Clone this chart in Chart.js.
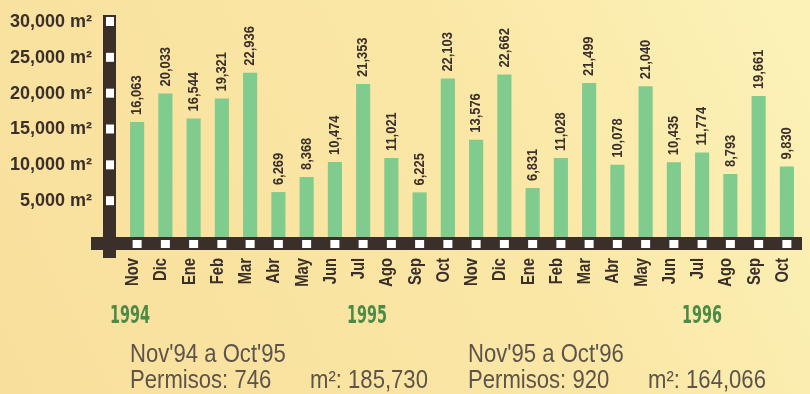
<!DOCTYPE html>
<html>
<head>
<meta charset="utf-8">
<script src="https://cdn.jsdelivr.net/npm/chart.js@4"></script>
<style>
  html, body { margin: 0; padding: 0; background: #fae4a0; }
  #wrap { width: 810px; height: 394px; }
</style>
</head>
<body>
<div id="wrap"><canvas id="myChart" width="810" height="394"></canvas></div>
<script>
// building permits, square metres per month
const months = ["Nov", "Dic", "Ene", "Feb", "Mar", "Abr", "May", "Jun", "Jul", "Ago", "Sep", "Oct",
  "Nov", "Dic", "Ene", "Feb", "Mar", "Abr", "May", "Jun", "Jul", "Ago", "Sep", "Oct"];
const squareMeters = [16063, 20033, 16544, 19321, 22936, 6269, 8368, 10474, 21353, 11021, 6225, 22103,
  13576, 22662, 6831, 11028, 21499, 10078, 21040, 10435, 11774, 8793, 19661, 9830];
const yTicks = [5000, 10000, 15000, 20000, 25000, 30000];
const years = ["1994", "1995", "1996"];
const summaryTitles = ["Nov'94 a Oct'95", "Nov'95 a Oct'96"];
const permits = [746, 920];
const totals = [185730, 164066];

const ink = "#3a2f29";
const sans = "'Liberation Sans', Arial, sans-serif";
const fmt = (n) => n.toLocaleString("en-US");

// squeezed text, stands in for a condensed face
function narrowText(c, text, x, y, sx, angle) {
  c.save();
  c.translate(x, y);
  if (angle) c.rotate(angle);
  c.scale(sx, 1);
  c.fillText(text, 0, 0);
  c.restore();
}

// cream paper background
const paper = {
  id: "paper",
  beforeDraw(chart) {
    const c = chart.ctx;
    const g = c.createLinearGradient(0, 394, 810, 0);
    g.addColorStop(0, "#f9df9c");
    g.addColorStop(0.6, "#fae7a6");
    g.addColorStop(1, "#fcf2b8");
    c.save();
    c.fillStyle = g;
    c.fillRect(0, 0, chart.width, chart.height);
    c.restore();
  },
};

// film-strip axes, month names, value labels, years and the summary block
const decorations = {
  id: "decorations",
  afterDatasetsDraw(chart) {
    const c = chart.ctx;
    const x = chart.scales.x;
    const y = chart.scales.y;
    const base = chart.chartArea.bottom;
    c.save();

    // strips
    c.fillStyle = ink;
    c.fillRect(103, 15, 13, 243);
    c.fillRect(91, base, 711, 13);
    c.fillStyle = "#ffffff";
    yTicks.forEach((t) => {
      const py = y.getPixelForValue(t);
      c.fillRect(106, py - 5, 8, 9);
    });
    squareMeters.forEach((v, i) => {
      const px = x.getPixelForValue(i);
      c.fillRect(px - 4.5, base + 3, 9, 8);
    });

    // month names, reading upwards
    c.fillStyle = ink;
    c.font = "bold 18px " + sans;
    c.textAlign = "right";
    c.textBaseline = "middle";
    months.forEach((m, i) => {
      narrowText(c, m, x.getPixelForValue(i) - 4, base + 21, 0.82, -Math.PI / 2);
    });

    // values above the bars
    const meta = chart.getDatasetMeta(0);
    c.font = "bold 15px " + sans;
    c.textAlign = "left";
    meta.data.forEach((bar, i) => {
      narrowText(c, fmt(squareMeters[i]), bar.x, bar.y - 7, 0.86, -Math.PI / 2);
    });

    // years
    c.fillStyle = "#4b8a47";
    c.font = "bold 24px 'DejaVu Sans', sans-serif";
    c.textBaseline = "alphabetic";
    const yearX = [110, 347, 682];
    years.forEach((yr, i) => narrowText(c, yr, yearX[i], 323, 0.6));

    // summary
    c.fillStyle = "#5d534b";
    c.font = "26px " + sans;
    const colX = [130, 468];
    const m2X = [310, 648];
    summaryTitles.forEach((t, i) => {
      narrowText(c, t, colX[i], 362, 0.85);
      narrowText(c, "Permisos: " + permits[i], colX[i], 388, 0.85);
      narrowText(c, "m\u00b2: " + fmt(totals[i]), m2X[i], 388, 0.85);
    });
    c.restore();
  },
};

function noPadding(scale) {
  scale.paddingTop = 0;
  scale.paddingBottom = 0;
  scale.paddingLeft = 0;
  scale.paddingRight = 0;
}

const ctx = document.getElementById("myChart");
new Chart(ctx, {
  type: "bar",
  data: {
    labels: months,
    datasets: [
      {
        data: squareMeters,
        backgroundColor: "#80cb8e",
        barPercentage: 0.5,
        categoryPercentage: 1,
      },
    ],
  },
  options: {
    responsive: false,
    animation: false,
    layout: { padding: { top: 22, right: 9, left: 0, bottom: 0 } },
    plugins: {
      legend: { display: false },
      tooltip: { enabled: false },
    },
    scales: {
      x: {
        grid: { display: false, drawTicks: false },
        border: { display: false },
        ticks: { display: false },
        afterFit(scale) {
          scale.height = 157;
          noPadding(scale);
        },
      },
      y: {
        min: 0,
        max: 30000,
        grid: { display: false, drawTicks: false },
        border: { display: false },
        afterFit(scale) {
          scale.width = 123;
          noPadding(scale);
        },
        afterBuildTicks(scale) { scale.ticks = yTicks.map((v) => ({ value: v })); },
        ticks: {
          color: ink,
          padding: 31,
          font: { family: sans, size: 18, weight: "bold" },
          callback: (v) => fmt(v) + " m\u00b2",
        },
      },
    },
  },
  plugins: [paper, decorations],
});
</script>
</body>
</html>
